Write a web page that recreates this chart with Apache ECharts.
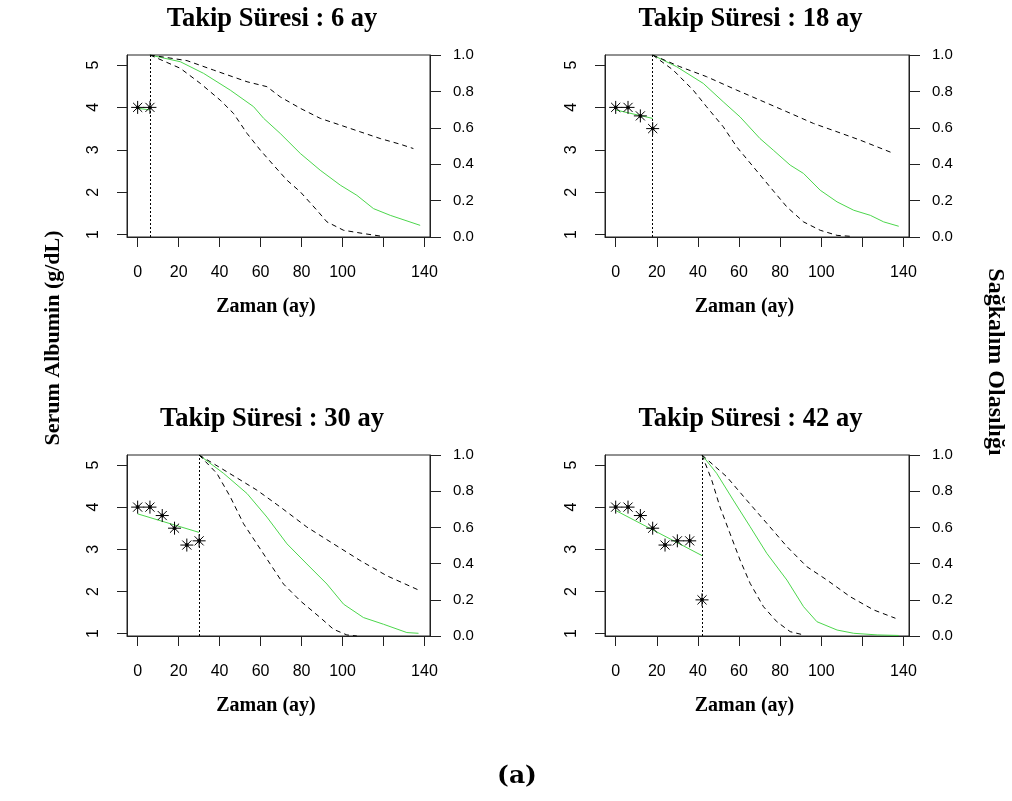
<!DOCTYPE html>
<html>
<head>
<meta charset="utf-8">
<script src="https://cdn.jsdelivr.net/npm/echarts@6/dist/echarts.min.js"></script>
<style>
html,body{margin:0;padding:0;background:#fff;}
#chart{width:1012px;height:801px;}
</style>
</head>
<body>
<div id="chart"></div>
<script>
// ---------- data ----------
const panelTitles = ['Takip Süresi : 6 ay', 'Takip Süresi : 18 ay', 'Takip Süresi : 30 ay', 'Takip Süresi : 42 ay'];
const landmarks = [6, 18, 30, 42];
const xTickValues = [0, 20, 40, 60, 80, 100, 120, 140];
const xLabelValues = [0, 20, 40, 60, 80, 100, 140];
const albuminTicks = [1, 2, 3, 4, 5];
const xName = 'Zaman (ay)';
const leftName = 'Serum Albumin (g/dL)';
const rightName = 'Sağkalım Olasılığı';
const caption = '(a)';

const obsTimes = [0, 6, 12, 18, 24, 30, 36, 42];
const obs1 = [4.0, 4.0];
const obs2 = [4.0, 4.0, 3.8, 3.5];
const obs3 = [4.0, 4.0, 3.8, 3.5, 3.1, 3.2];
const obs4 = [4.0, 4.0, 3.8, 3.5, 3.1, 3.2, 3.2, 1.8];

const fit1 = [[0, 3.98], [6, 3.94]];
const fit2 = [[0, 3.94], [18, 3.74]];
const fit3 = [[0, 3.84], [30, 3.40]];
const fit4 = [[0, 3.92], [42, 2.85]];

const surv1 = [[6,1.0],[20.8,0.963],[32.2,0.899],[45.2,0.807],[56.6,0.716],[61.5,0.652],[69.6,0.569],[79.4,0.459],[89.1,0.367],[98.9,0.285],[107,0.229],[115.1,0.156],[123.3,0.119],[137.9,0.064]];
const upper1 = [[6,1.0],[24.1,0.969],[37.1,0.917],[53.4,0.853],[63.1,0.826],[69.6,0.770],[79.4,0.707],[89.1,0.652],[98.9,0.615],[108.6,0.578],[118.4,0.541],[128.1,0.510],[134.6,0.486]];
const lower1 = [[6,1.0],[20.8,0.927],[30.6,0.844],[40.3,0.752],[46.8,0.679],[53.4,0.569],[59.9,0.477],[66.3,0.395],[72.9,0.312],[79.4,0.248],[87.5,0.147],[92.4,0.083],[100.5,0.037],[110.2,0.019],[119.2,0.004]];

const surv2 = [[18,1.0],[29.6,0.936],[42.6,0.844],[52.3,0.743],[60.5,0.660],[70.2,0.541],[76.7,0.477],[84.9,0.395],[91.4,0.349],[99.5,0.257],[107.7,0.193],[115.8,0.147],[123.9,0.119],[130.4,0.083],[137.7,0.059]];
const upper2 = [[18,1.0],[31.2,0.936],[44.2,0.881],[58.9,0.807],[70.2,0.752],[83.3,0.688],[96.2,0.624],[107.7,0.578],[119,0.532],[135.3,0.459]];
const lower2 = [[18,1.0],[28,0.917],[37.7,0.807],[44.2,0.716],[52.3,0.606],[58.9,0.495],[67,0.385],[75.1,0.275],[83.3,0.165],[91.4,0.083],[99.5,0.037],[107.7,0.009],[114.1,0.004]];

const surv3 = [[30,1.0],[42,0.898],[53.4,0.787],[63.1,0.657],[72.9,0.509],[82.6,0.398],[92.4,0.287],[100.5,0.176],[110.2,0.102],[120,0.065],[131.4,0.019],[137.1,0.015]];
const upper3 = [[30,1.0],[43.6,0.907],[58.2,0.806],[69.6,0.713],[82.6,0.602],[95.6,0.509],[108.6,0.417],[121.6,0.333],[137.9,0.25]];
const lower3 = [[30,1.0],[38.7,0.898],[45.2,0.769],[51.7,0.62],[58.2,0.509],[64.7,0.398],[71.2,0.287],[79.4,0.194],[89.1,0.102],[95.6,0.037],[102.1,0.006],[107,0.0]];

const surv4 = [[42,1.0],[49.1,0.899],[57.2,0.751],[65.4,0.604],[73.5,0.457],[83.3,0.309],[91.4,0.162],[97.9,0.079],[107.7,0.033],[115.8,0.015],[127.2,0.006],[137.7,0.003]];
const upper4 = [[42,1.0],[54,0.880],[63.7,0.751],[73.5,0.623],[83.3,0.494],[93,0.383],[102.8,0.309],[114.1,0.217],[125.5,0.144],[136.1,0.098]];
const lower4 = [[42,1.0],[46.7,0.862],[50.7,0.714],[55.6,0.567],[60.5,0.420],[65.4,0.291],[71.9,0.162],[78.4,0.079],[84.9,0.024],[91.4,0.006]];

const obsAll = [obs1, obs2, obs3, obs4];
const fitAll = [fit1, fit2, fit3, fit4];
const survAll = [surv1, surv2, surv3, surv4];
const upperAll = [upper1, upper2, upper3, upper4];
const lowerAll = [lower1, lower2, lower3, lower4];

// ---------- layout ----------
const grids = [
  {left: 127, top: 55, width: 303, height: 182},
  {left: 605, top: 55, width: 304, height: 182},
  {left: 127, top: 455, width: 303, height: 181},
  {left: 605, top: 455, width: 304, height: 181}
];
const GREEN = '#4cd64c';
const AX = '#222';
const sans = 'Liberation Sans';
const asterisk = 'path://M10,0L10,20M0,10L20,10M3,3L17,17M3,17L17,3';

const option = {
  backgroundColor: '#fff',
  animation: false,
  grid: grids.map(g => Object.assign({show: true, borderColor: AX, borderWidth: 1, backgroundColor: 'transparent'}, g)),
  xAxis: [],
  yAxis: [],
  series: [],
  graphic: []
};

for (let i = 0; i < 4; i++) {
  option.xAxis.push({
    type: 'value', gridIndex: i, min: -5.2, max: 142.7, position: 'bottom',
    splitLine: {show: false},
    axisLine: {show: true, onZero: false, lineStyle: {color: AX}},
    axisTick: {show: true, length: 10, inside: false, customValues: xTickValues, lineStyle: {color: AX}},
    axisLabel: {show: true, customValues: xLabelValues, margin: 28, color: '#000', fontFamily: sans, fontSize: 16}
  });
  option.yAxis.push({
    type: 'value', gridIndex: i, min: 0.943, max: 5.236, position: 'left',
    splitLine: {show: false},
    axisLine: {show: true, onZero: false, lineStyle: {color: AX}},
    axisTick: {show: true, length: 10, customValues: albuminTicks, lineStyle: {color: AX}},
    axisLabel: {show: true, customValues: albuminTicks, rotate: 90, margin: 25, color: '#000', fontFamily: sans, fontSize: 16}
  });
  option.yAxis.push({
    type: 'value', gridIndex: i, min: 0, max: 1, interval: 0.2, position: 'right',
    splitLine: {show: false},
    axisLine: {show: true, onZero: false, lineStyle: {color: AX}},
    axisTick: {show: true, length: 11, lineStyle: {color: AX}},
    axisLabel: {show: true, margin: 23, color: '#000', fontFamily: sans, fontSize: 15,
      formatter: v => v.toFixed(1)}
  });

  const obsData = obsAll[i].map((v, k) => [obsTimes[k], v]);
  const yL = 2 * i, yR = 2 * i + 1;

  option.series.push({
    type: 'line', xAxisIndex: i, yAxisIndex: yL, data: fitAll[i],
    showSymbol: false, lineStyle: {color: GREEN, width: 1}, z: 2,
    markLine: {
      silent: true, symbol: 'none', label: {show: false},
      lineStyle: {color: '#000', type: [2, 2], width: 1},
      data: [{xAxis: landmarks[i]}]
    }
  });
  option.series.push({
    type: 'line', xAxisIndex: i, yAxisIndex: yR, data: survAll[i],
    showSymbol: false, lineStyle: {color: GREEN, width: 1}, z: 2
  });
  option.series.push({
    type: 'line', xAxisIndex: i, yAxisIndex: yR, data: upperAll[i],
    showSymbol: false, lineStyle: {color: '#000', width: 1, type: [5, 4]}, z: 2
  });
  option.series.push({
    type: 'line', xAxisIndex: i, yAxisIndex: yR, data: lowerAll[i],
    showSymbol: false, lineStyle: {color: '#000', width: 1, type: [5, 4]}, z: 2
  });
  option.series.push({
    type: 'scatter', xAxisIndex: i, yAxisIndex: yL, data: obsData,
    symbol: asterisk, symbolSize: 13, symbolKeepAspect: true,
    itemStyle: {color: 'none', borderColor: '#000', borderWidth: 1, opacity: 1}, z: 4
  });
  option.series.push({
    type: 'scatter', xAxisIndex: i, yAxisIndex: yL, data: obsData,
    symbol: 'circle', symbolSize: 4, itemStyle: {color: '#000'}, z: 5
  });

  const g = grids[i];
  const cx = g.left + g.width / 2;
  option.graphic.push({
    type: 'text', x: cx - 6.5, y: g.top - 36,
    style: {text: panelTitles[i], font: 'bold 26.5px "Liberation Serif"', fill: '#000', align: 'center', verticalAlign: 'middle'}
  });
  option.graphic.push({
    type: 'text', x: cx - 12.5, y: g.top + g.height + 70,
    style: {text: xName, font: 'bold 20px "Liberation Serif"', fill: '#000', align: 'center', verticalAlign: 'middle'}
  });
}

option.graphic.push({
  type: 'text', x: 53, y: 338, rotation: Math.PI / 2,
  style: {text: leftName, font: 'bold 22px "Liberation Serif"', fill: '#000', align: 'center', verticalAlign: 'middle'}
});
option.graphic.push({
  type: 'text', x: 995, y: 362, rotation: -Math.PI / 2,
  style: {text: rightName, font: 'bold 24px "Liberation Serif"', fill: '#000', align: 'center', verticalAlign: 'middle'}
});
option.graphic.push({
  type: 'text', x: 517, y: 776,
  style: {text: caption, font: 'bold 25px "DejaVu Serif"', fill: '#000', align: 'center', verticalAlign: 'middle'}
});

const chart = echarts.init(document.getElementById('chart'), null, {renderer: 'canvas'});
chart.setOption(option);
</script>
</body>
</html>
